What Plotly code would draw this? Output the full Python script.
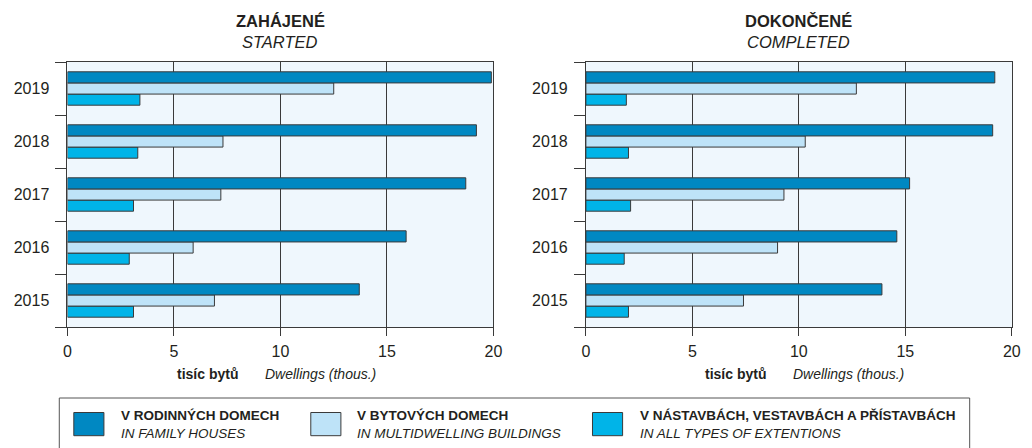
import plotly.graph_objects as go

# ---------------- data ----------------
years = ["2015", "2016", "2017", "2018", "2019"]

started_family = [13.7, 15.9, 18.7, 19.2, 19.9]
started_multi = [6.9, 5.9, 7.2, 7.3, 12.5]
started_ext = [3.1, 2.9, 3.1, 3.3, 3.4]

completed_family = [13.9, 14.6, 15.2, 19.1, 19.2]
completed_multi = [7.4, 9.0, 9.3, 10.3, 12.7]
completed_ext = [2.0, 1.8, 2.1, 2.0, 1.9]

series_cz = ["V RODINNÝCH DOMECH", "V BYTOVÝCH DOMECH", "V NÁSTAVBÁCH, VESTAVBÁCH A PŘÍSTAVBÁCH"]
series_en = ["IN FAMILY HOUSES", "IN MULTIDWELLING BUILDINGS", "IN ALL TYPES OF EXTENTIONS"]
panel_cz = ["ZAHÁJENÉ", "DOKONČENÉ"]
panel_en = ["STARTED", "COMPLETED"]
x_ticks = [0, 5, 10, 15, 20]
unit_cz = "tisíc bytů"
unit_en = "Dwellings (thous.)"

# ---------------- style ----------------
C_FAMILY = "#0088C2"
C_MULTI = "#BEE3F8"
C_EXT = "#00B4E8"
colors = [C_FAMILY, C_MULTI, C_EXT]
BG = "#EFF7FD"
LINE = "#3a3a3a"
TXT = "#231f20"
FONT = "Liberation Sans, Arial, sans-serif"
W, H = 1032, 448


def px(x):
    return x / W


def py(y):
    return 1 - y / H


fig = go.Figure()

panels = [
    ("x", "y", [started_family, started_multi, started_ext]),
    ("x2", "y2", [completed_family, completed_multi, completed_ext]),
]
for xa, ya, vals in panels:
    # plotly stacks grouped horizontal bars bottom-up, so add in reverse
    for i in [2, 1, 0]:
        fig.add_trace(go.Bar(
            y=years, x=vals[i], orientation="h",
            name=series_cz[i], showlegend=False, hoverinfo="skip",
            marker=dict(color=colors[i], line=dict(color=LINE, width=1)),
            xaxis=xa, yaxis=ya,
        ))

xdom = [[px(64.3), px(495.7)], [px(589.3), px(1020.7)]]
ydom = [py(327), py(62)]

xcommon = dict(
    range=[0, 20], tickvals=x_ticks, ticks="outside", ticklen=8, tickcolor=LINE,
    showgrid=True, gridcolor=LINE, gridwidth=1, zeroline=False,
    showline=True, linecolor=LINE, linewidth=1, mirror=True,
    tickfont=dict(size=16, color=TXT, family=FONT), ticklabelstandoff=2,
    fixedrange=True,
)
ycommon = dict(
    type="category", categoryorder="array", categoryarray=years,
    tickson="boundaries", ticks="outside", ticklen=11, tickcolor=LINE,
    showgrid=False, zeroline=False,
    showline=True, linecolor=LINE, linewidth=1, mirror=True,
    tickfont=dict(size=16, color=TXT, family=FONT), ticklabelstandoff=14,
    fixedrange=True,
)

fig.update_layout(
    width=W, height=H,
    margin=dict(l=0, r=0, t=0, b=0),
    paper_bgcolor="white",
    plot_bgcolor=BG,
    barmode="group", bargap=0.37, bargroupgap=0,
    font=dict(family=FONT, color=TXT),
    xaxis=dict(domain=xdom[0], anchor="y", **xcommon),
    yaxis=dict(domain=ydom, anchor="x", **ycommon),
    xaxis2=dict(domain=xdom[1], anchor="y2", **xcommon),
    yaxis2=dict(domain=ydom, anchor="x2", **ycommon),
    showlegend=False,
)

annotations = []
shapes = []

# panel titles
title_cx = [280.0, 805.0]
for k in range(2):
    annotations.append(dict(
        x=px(title_cx[k]), y=py(21), xref="paper", yref="paper",
        text="<b>" + panel_cz[k] + "</b>", showarrow=False,
        xanchor="center", yanchor="middle", font=dict(size=16.5, color=TXT, family=FONT)))
    annotations.append(dict(
        x=px(title_cx[k]), y=py(42), xref="paper", yref="paper",
        text="<i>" + panel_en[k] + "</i>", showarrow=False,
        xanchor="center", yanchor="middle", font=dict(size=16.5, color=TXT, family=FONT)))

# axis unit labels
unit_pos = [(239.0, 262.7), (774.0, 797.3)]
for a, b in unit_pos:
    annotations.append(dict(
        x=px(a), y=py(374), xref="paper", yref="paper",
        text="<b>" + unit_cz + "</b>", showarrow=False,
        xanchor="right", yanchor="middle", font=dict(size=14, color=TXT, family=FONT)))
    annotations.append(dict(
        x=px(b), y=py(374), xref="paper", yref="paper",
        text="<i>" + unit_en + "</i>", showarrow=False,
        xanchor="left", yanchor="middle", font=dict(size=14, color=TXT, family=FONT)))

# legend box
shapes.append(dict(type="rect", xref="paper", yref="paper",
                   x0=px(56), x1=px(978), y0=py(452), y1=py(398),
                   line=dict(color="#555555", width=1), fillcolor="rgba(0,0,0,0)"))
sw_x = [70.7, 310.7, 596.0]
tx_x = [116.7, 355.0, 641.7]
for i in range(3):
    shapes.append(dict(type="rect", xref="paper", yref="paper",
                       x0=px(sw_x[i]), x1=px(sw_x[i] + 30.5), y0=py(435.7), y1=py(412.5),
                       line=dict(color=LINE, width=1), fillcolor=colors[i]))
    annotations.append(dict(
        x=px(tx_x[i]), y=py(424), xref="paper", yref="paper",
        text="<b>" + series_cz[i] + "</b><br><i>" + series_en[i] + "</i>",
        showarrow=False, align="left", xanchor="left", yanchor="middle",
        font=dict(size=13.5, color=TXT, family=FONT)))

fig.update_layout(annotations=annotations, shapes=shapes)

fig.write_html(
    "out.html",
    config={"displayModeBar": False},
    post_script="document.body.style.margin='0';document.body.style.padding='0';"
                "document.body.style.overflow='hidden';",
)
